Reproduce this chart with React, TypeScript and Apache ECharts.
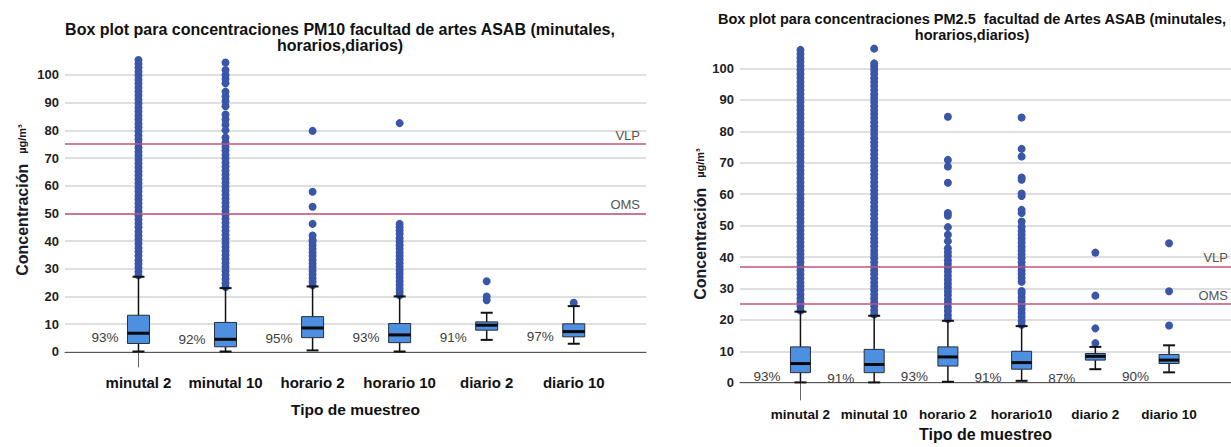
import React, { useEffect, useRef } from "react";
import * as echarts from "echarts";

// ---------- PM10 chart (left) ----------
const pm10Categories = ["minutal 2", "minutal 10", "horario 2", "horario 10", "diario 2", "diario 10"];
const pm10Low = [0.1, 0.1, 0.5, 0.1, 4.3, 2.9];
const pm10Q1 = [3.0, 1.8, 5.1, 3.3, 7.8, 5.4];
const pm10Median = [6.7, 4.5, 8.6, 6.1, 9.6, 7.3];
const pm10Q3 = [13.2, 10.6, 12.7, 10.2, 10.8, 10.1];
const pm10High = [27.1, 23.0, 23.6, 20.0, 14.1, 16.5];
const pm10Percent = ["93%", "92%", "95%", "93%", "91%", "97%"];
const pm10PercentAt = [5.1, 4.5, 4.8, 5.1, 5.1, 5.5];
const pm10Limits = [
  { name: "VLP", value: 75 },
  { name: "OMS", value: 50 },
];
const pm10Outliers: number[][] = [
  [27.6, 28.9, 30.4, 31.8, 33.1, 34.7, 36.2, 37.5, 39.1, 40.6, 41.9, 43.4, 45.0, 46.3, 47.8, 49.2, 50.7, 52.1, 53.6, 55.0, 56.4, 57.9, 59.3, 60.8, 62.2, 63.7, 65.1, 66.6, 68.0, 69.4, 70.9, 72.3, 73.8, 75.2, 76.7, 78.1, 79.6, 81.0, 82.4, 83.9, 85.3, 86.8, 88.2, 89.7, 91.1, 92.6, 94.0, 95.4, 96.9, 98.3, 99.8, 101.2, 102.7, 104.1, 105.4],
  [23.4, 24.8, 26.3, 27.7, 29.2, 30.6, 32.1, 33.5, 35.0, 36.4, 37.9, 39.3, 40.8, 42.2, 43.7, 45.1, 46.6, 48.0, 49.5, 50.9, 52.4, 53.8, 55.3, 56.7, 58.2, 59.6, 61.1, 62.5, 64.0, 65.4, 66.9, 68.3, 69.8, 71.2, 72.7, 74.1, 75.6, 77.4, 80.0, 82.0, 83.9, 85.7, 88.7, 90.5, 92.2, 94.0, 97.0, 98.6, 100.0, 101.8, 104.5],
  [24.0, 25.3, 26.6, 27.9, 29.3, 30.6, 31.9, 33.2, 34.6, 35.9, 37.2, 38.5, 39.8, 40.4, 42.0, 46.2, 52.4, 57.8, 79.8],
  [20.4, 21.6, 22.9, 24.2, 25.5, 26.8, 28.1, 29.4, 30.7, 32.0, 33.3, 34.6, 35.9, 37.2, 38.5, 39.8, 41.0, 42.6, 43.8, 45.0, 46.2, 82.6],
  [18.6, 20.0, 25.5],
  [17.7],
];

// ---------- PM2.5 chart (right) ----------
const pm25Categories = ["minutal 2", "minutal 10", "horario 2", "horario10", "diario 2", "diario 10"];
const pm25Low = [0.1, 0.1, 0.3, 0.6, 4.3, 3.3];
const pm25Q1 = [3.2, 3.2, 5.3, 4.3, 7.2, 6.1];
const pm25Median = [6.1, 5.8, 8.2, 6.4, 8.4, 7.2];
const pm25Q3 = [11.4, 10.6, 11.4, 10.0, 9.3, 9.0];
const pm25High = [22.6, 21.3, 19.7, 18.0, 11.4, 11.9];
const pm25Percent = ["93%", "91%", "93%", "91%", "87%", "90%"];
const pm25PercentAt = [2.1, 1.4, 2.1, 1.7, 1.4, 2.1];
const pm25Limits = [
  { name: "VLP", value: 37 },
  { name: "OMS", value: 25 },
];
const pm25Outliers: number[][] = [
  [23.0, 24.3, 25.6, 26.8, 28.1, 29.4, 30.7, 31.9, 33.2, 34.5, 35.8, 37.0, 38.3, 39.6, 40.9, 42.1, 43.4, 44.7, 46.0, 47.2, 48.5, 49.8, 51.1, 52.3, 53.6, 54.9, 56.2, 57.4, 58.7, 60.0, 61.3, 62.5, 63.8, 65.1, 66.4, 67.6, 68.9, 70.2, 71.5, 72.7, 74.0, 75.3, 76.6, 77.8, 79.1, 80.4, 81.7, 82.9, 84.2, 85.5, 86.8, 88.0, 89.3, 90.6, 91.9, 93.1, 94.4, 95.7, 97.0, 98.2, 99.5, 100.8, 102.1, 103.3, 104.6, 105.9],
  [21.7, 23.0, 24.3, 25.5, 26.8, 28.1, 29.4, 30.6, 31.9, 33.2, 34.5, 35.7, 37.0, 38.3, 39.6, 40.8, 42.1, 43.4, 44.7, 45.9, 47.2, 48.5, 49.8, 51.0, 52.3, 53.6, 54.9, 56.1, 57.4, 58.7, 60.0, 61.2, 62.5, 63.8, 65.1, 66.3, 67.6, 68.9, 70.2, 71.4, 72.7, 74.0, 75.3, 76.5, 77.8, 79.1, 80.4, 81.6, 82.9, 84.2, 85.5, 86.7, 88.0, 89.3, 90.6, 91.8, 93.1, 94.4, 95.7, 96.9, 98.2, 99.5, 100.6, 101.6, 106.3],
  [20.3, 21.5, 22.8, 24.0, 25.3, 26.5, 27.8, 29.0, 30.3, 31.5, 32.8, 34.0, 35.3, 36.5, 37.8, 39.0, 40.3, 41.5, 42.8, 45.0, 47.1, 49.5, 53.1, 54.0, 63.6, 68.8, 70.9, 84.6],
  [18.4, 19.6, 20.9, 22.1, 23.4, 24.6, 25.9, 27.1, 28.4, 29.2, 32.1, 33.3, 34.6, 35.8, 37.1, 38.3, 39.6, 40.8, 42.1, 43.3, 44.6, 45.8, 47.1, 48.3, 49.6, 51.3, 54.0, 55.0, 59.4, 60.2, 64.6, 65.3, 72.0, 74.4, 84.4],
  [12.6, 17.3, 27.7, 41.4],
  [18.2, 29.1, 44.4],
];

const FONT = "Liberation Sans, Arial, Helvetica, sans-serif";
const BOX_FILL = "#4d8fe0";
const DOT = "#3a56a8";
const LIMIT = "#c2557c";

type ChartSpec = {
  categories: string[];
  low: number[];
  q1: number[];
  median: number[];
  q3: number[];
  high: number[];
  percent: string[];
  percentAt: number[];
  limits: { name: string; value: number }[];
  outliers: number[][];
};

const specs: ChartSpec[] = [
  {
    categories: pm10Categories, low: pm10Low, q1: pm10Q1, median: pm10Median, q3: pm10Q3, high: pm10High,
    percent: pm10Percent, percentAt: pm10PercentAt, limits: pm10Limits, outliers: pm10Outliers,
  },
  {
    categories: pm25Categories, low: pm25Low, q1: pm25Q1, median: pm25Median, q3: pm25Q3, high: pm25High,
    percent: pm25Percent, percentAt: pm25PercentAt, limits: pm25Limits, outliers: pm25Outliers,
  },
];

const layouts = [
  { left: 65, top: 57, width: 581, height: 310, xmin: -0.844, xmax: 5.83, boxW: 22, capW: 12, labelSize: 15, labelMargin: 8, xNameSize: 15.5, xNameGap: 34, yNameGap: 35, yNamePad: [0, 0, 0, 24], yLabelSize: 13, pctSize: 13.5, dot: 8, limitDist: [6, 2] },
  { left: 740, top: 48, width: 498, height: 355, xmin: -0.82, xmax: 5.84, boxW: 20, capW: 12, labelSize: 13.5, labelMargin: 7, xNameSize: 16, xNameGap: 26, yNameGap: 32, yNamePad: [0, 0, 0, 0], yLabelSize: 13, pctSize: 13.5, dot: 8, limitDist: [3, 2] },
];

function buildOption() {
  const grid: any[] = [];
  const xAxis: any[] = [];
  const yAxis: any[] = [];
  const series: any[] = [];

  specs.forEach((s, gi) => {
    const L = layouts[gi];
    grid.push({ left: L.left, top: L.top, width: L.width, height: L.height, containLabel: false });
    xAxis.push({
      type: "value",
      gridIndex: gi,
      min: L.xmin,
      max: L.xmax,
      minInterval: 1,
      maxInterval: 1,
      name: "Tipo de muestreo",
      nameLocation: "middle",
      nameGap: L.xNameGap,
      nameTextStyle: { fontFamily: FONT, fontWeight: "bold", fontSize: L.xNameSize, color: "#111" },
      axisLine: { show: true, lineStyle: { color: "#555", width: 1 } },
      axisTick: { show: false },
      splitLine: { show: false },
      axisLabel: {
        showMinLabel: false,
        showMaxLabel: false,
        margin: L.labelMargin,
        fontFamily: FONT,
        fontWeight: "bold",
        fontSize: L.labelSize,
        color: "#111",
        formatter: (v: number) => (Number.isInteger(v) && s.categories[v] ? s.categories[v] : ""),
      },
    });
    yAxis.push({
      type: "value",
      gridIndex: gi,
      min: -5.5,
      max: 106.5,
      minInterval: 10,
      maxInterval: 10,
      name: "{a|Concentración}   {b|µg/m³}",
      nameLocation: "middle",
      nameRotate: 90,
      nameGap: L.yNameGap,
      nameTextStyle: {
        padding: L.yNamePad,
        rich: {
          a: { fontFamily: FONT, fontWeight: "bold", fontSize: 16, color: "#1a1a2a" },
          b: { fontFamily: FONT, fontWeight: "bold", fontSize: 11, color: "#1a1a2a" },
        },
      },
      axisLine: { show: true, lineStyle: { color: "#666", width: 1 } },
      axisTick: { show: false },
      splitLine: { show: true, showMinLine: false, showMaxLine: false, lineStyle: { color: "#d4d4d4", width: 1.5 } },
      axisLabel: {
        showMinLabel: false,
        showMaxLabel: false,
        margin: 6,
        fontFamily: FONT,
        fontWeight: "bold",
        fontSize: L.yLabelSize,
        color: "#222",
        formatter: (v: number) => (v % 10 === 0 ? String(v) : ""),
      },
    });

    const dots: number[][] = [];
    s.outliers.forEach((arr, i) => arr.forEach((v) => dots.push([i, v])));

    series.push({
      type: "scatter",
      xAxisIndex: gi,
      yAxisIndex: gi,
      data: dots,
      symbolSize: L.dot,
      itemStyle: { color: DOT, opacity: 1 },
      z: 3,
      silent: true,
      markLine: {
        silent: true,
        symbol: "none",
        lineStyle: { color: LIMIT, width: 1.5, type: "solid" },
        label: {
          show: true,
          position: "insideEndTop",
          distance: L.limitDist,
          formatter: "{b}",
          fontFamily: FONT,
          fontSize: 13,
          color: "#555",
        },
        data: s.limits.map((l) => ({ name: l.name, yAxis: l.value })),
      },
    });

    const boxData = s.categories.map((_, i) => [i, s.low[i], s.q1[i], s.median[i], s.q3[i], s.high[i]]);
    series.push({
      type: "custom",
      xAxisIndex: gi,
      yAxisIndex: gi,
      data: boxData,
      z: 4,
      encode: { x: 0, y: [1, 2, 3, 4, 5] },
      renderItem: (params: any, api: any) => {
        const x = api.value(0);
        const lo = api.coord([x, api.value(1)]);
        const a = api.coord([x, api.value(2)]);
        const md = api.coord([x, api.value(3)]);
        const b = api.coord([x, api.value(4)]);
        const hi = api.coord([x, api.value(5)]);
        const cx = lo[0];
        const bw = L.boxW;
        const cw = L.capW;
        const ln = { stroke: "#111", lineWidth: 1.5 };
        return {
          type: "group",
          children: [
            { type: "line", shape: { x1: cx, y1: lo[1], x2: cx, y2: a[1] }, style: ln },
            { type: "line", shape: { x1: cx, y1: b[1], x2: cx, y2: hi[1] }, style: ln },
            { type: "line", shape: { x1: cx - cw / 2, y1: lo[1], x2: cx + cw / 2, y2: lo[1] }, style: { stroke: "#111", lineWidth: 2 } },
            { type: "line", shape: { x1: cx - cw / 2, y1: hi[1], x2: cx + cw / 2, y2: hi[1] }, style: { stroke: "#111", lineWidth: 2 } },
            {
              type: "rect",
              shape: { x: cx - bw / 2, y: b[1], width: bw, height: a[1] - b[1] },
              style: { fill: BOX_FILL, stroke: "#2a2f3a", lineWidth: 1 },
            },
            { type: "line", shape: { x1: cx - bw / 2, y1: md[1], x2: cx + bw / 2, y2: md[1] }, style: { stroke: "#0a0a0a", lineWidth: 3 } },
          ],
        };
      },
    });

    series.push({
      type: "scatter",
      xAxisIndex: gi,
      yAxisIndex: gi,
      symbolSize: 2,
      itemStyle: { color: "rgba(255,255,255,0)" },
      z: 5,
      silent: true,
      data: s.percent.map((p, i) => ({
        value: [i, s.percentAt[i]],
        label: {
          show: true,
          position: "left",
          distance: 19,
          formatter: p,
          fontFamily: FONT,
          fontSize: L.pctSize,
          color: "#3c3c3c",
          opacity: 1,
        },
      })),
    });
  });

  return {
    animation: false,
    backgroundColor: "#ffffff",
    grid,
    xAxis,
    yAxis,
    series,
    graphic: [
      {
        type: "text",
        x: 340,
        y: 21,
        style: {
          text: "Box plot para concentraciones PM10 facultad de artes ASAB (minutales,\nhorarios,diarios)",
          align: "center",
          verticalAlign: "top",
          font: `bold 16px ${FONT}`,
          lineHeight: 16,
          fill: "#111",
        },
      },
      {
        type: "text",
        x: 972,
        y: 11,
        style: {
          text: "Box plot para concentraciones PM2.5  facultad de Artes ASAB (minutales,\nhorarios,diarios)",
          align: "center",
          verticalAlign: "top",
          font: `bold 14.5px ${FONT}`,
          lineHeight: 16,
          fill: "#111",
        },
      },
    ],
  };
}

export default function App() {
  const ref = useRef<HTMLDivElement>(null);
  useEffect(() => {
    if (!ref.current) return;
    const chart = echarts.init(ref.current, undefined, { renderer: "svg" });
    chart.setOption(buildOption() as any);
    return () => chart.dispose();
  }, []);
  return (
    <div
      ref={ref}
      style={{ position: "absolute", left: 0, top: 0, width: 1231, height: 447, background: "#fff" }}
    />
  );
}
